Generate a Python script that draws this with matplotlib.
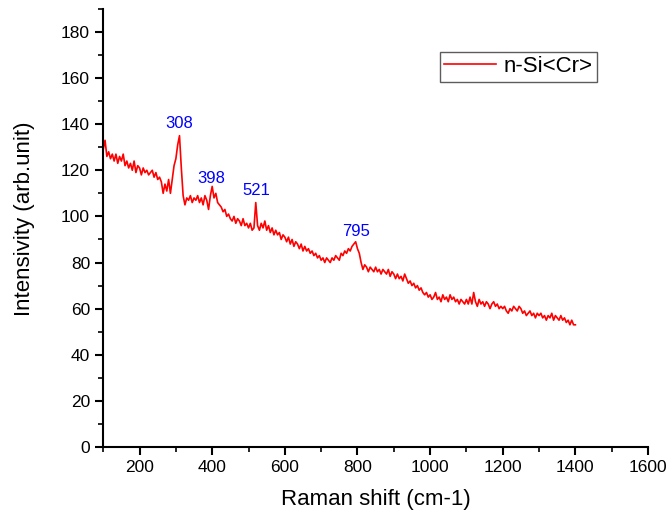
import numpy as np
import matplotlib
matplotlib.use('Agg')
import matplotlib.pyplot as plt
from matplotlib.ticker import MultipleLocator

plt.rcParams['font.family'] = ['Liberation Sans', 'DejaVu Sans']

# Raman shift grid (cm-1), 5 cm-1 step
shift = np.arange(100, 1401, 5)

# Intensity
intensity = [
    129, 133, 126, 128, 125, 127, 124, 127, 123, 126, 124, 127, 122, 124, 121, 123, 120, 124, 119, 122,
    121, 118, 121, 119, 120, 118, 119, 120, 117, 119, 116, 117, 115, 110, 114, 111, 116, 110, 116, 122,
    125, 131, 135, 121, 109, 105, 108, 107, 109, 106, 108, 107, 109, 106, 108, 105, 109, 107, 103, 109,
    113, 108, 110, 106, 105, 104, 102, 103, 100, 101, 99, 98, 100, 97, 99, 98, 96, 99, 96, 97,
    95, 97, 94, 95, 106, 96, 94, 97, 95, 98, 94, 96, 93, 95, 92, 94, 92, 93, 90, 92,
    91, 89, 91, 88, 90, 87, 89, 88, 86, 88, 85, 87, 85, 86, 84, 85, 83, 84, 82, 83,
    81, 82, 80, 82, 81, 80, 82, 81, 83, 82, 81, 84, 83, 85, 84, 86, 85, 87, 88, 89,
    86, 84, 80, 77, 79, 78, 76, 78, 77, 76, 78, 76, 77, 75, 77, 76, 75, 77, 74, 76,
    75, 73, 75, 73, 74, 72, 75, 73, 71, 72, 70, 71, 69, 70, 68, 69, 67, 66, 67, 65,
    66, 64, 65, 67, 64, 65, 63, 66, 64, 65, 63, 66, 64, 65, 63, 64, 62, 64, 63, 62,
    64, 62, 65, 62, 67, 63, 61, 64, 62, 63, 61, 63, 62, 60, 62, 63, 61, 62, 60, 61,
    60, 61, 59, 58, 60, 59, 61, 60, 59, 61, 60, 58, 59, 57, 58, 59, 57, 58, 56, 58,
    57, 58, 56, 57, 55, 57, 56, 58, 55, 57, 56, 55, 57, 55, 56, 54, 55, 53, 55, 53,
    53,
]

# Peak labels
peak_pos = [308, 398, 521, 795]
peak_text_y = [137, 113, 108, 90]

fig = plt.figure(figsize=(6.66, 5.18), dpi=100)
ax = fig.add_axes([0.155, 0.137, 0.818, 0.846])

ax.plot(shift, intensity, color='red', linewidth=1.2, label='n-Si<Cr>')

for p, ty in zip(peak_pos, peak_text_y):
    ax.text(p, ty, str(p), color='blue', fontsize=12, ha='center', va='bottom')

ax.set_xlim(100, 1600)
ax.set_ylim(0, 190)
ax.xaxis.set_minor_locator(MultipleLocator(100))
ax.yaxis.set_major_locator(MultipleLocator(20))
ax.yaxis.set_minor_locator(MultipleLocator(10))
ax.set_xticks(np.arange(200, 1601, 200))

ax.spines['top'].set_visible(False)
ax.spines['right'].set_visible(False)
ax.spines['left'].set_linewidth(1.5)
ax.spines['bottom'].set_linewidth(1.5)
ax.tick_params(which='major', direction='out', length=6, width=1.5, labelsize=12.5)
ax.tick_params(which='minor', direction='out', length=3.5, width=1.2)

ax.set_xlabel('Raman shift (cm-1)', fontsize=16, labelpad=10)
ax.set_ylabel('Intensivity (arb.unit)', fontsize=16)
ax.yaxis.set_label_coords(-0.125, 0.52)

leg = ax.legend(loc='upper right', bbox_to_anchor=(0.906, 0.902), borderaxespad=0,
                fontsize=16, fancybox=False, edgecolor='#333333', handlelength=2.3,
                handletextpad=0.35, borderpad=0.2)
leg.get_frame().set_linewidth(1.0)

fig.savefig('out.png', dpi=100)
